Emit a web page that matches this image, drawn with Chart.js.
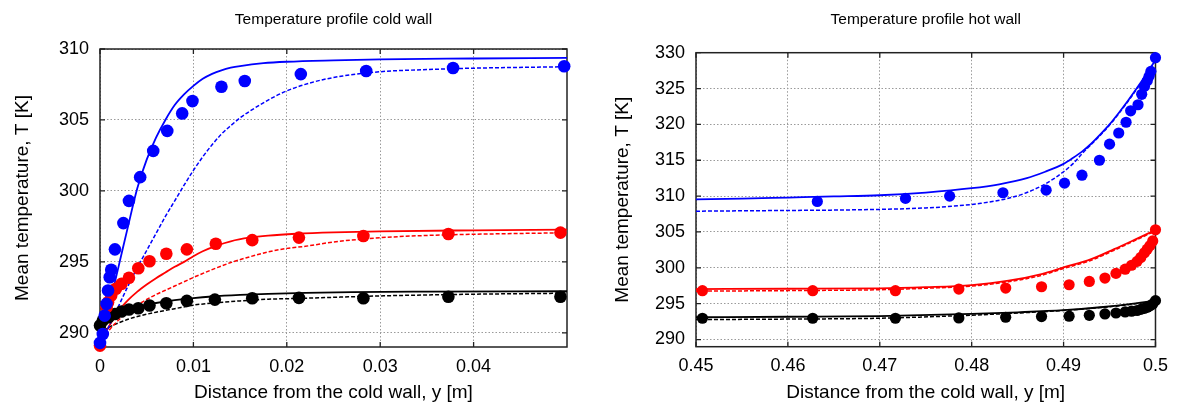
<!DOCTYPE html>
<html>
<head>
<meta charset="utf-8">
<script src="https://cdn.jsdelivr.net/npm/chart.js@4/dist/chart.umd.min.js"></script>
<style>
  html, body { margin: 0; padding: 0; background: #fff; }
  #cold { position: absolute; left: 0; top: 0; }
  #hot { position: absolute; left: 590px; top: 0; }
</style>
</head>
<body>
<canvas id="cold" width="590" height="405"></canvas>
<canvas id="hot" width="587" height="405"></canvas>
<script>
// ---- cold wall (left plot), y in m, T in K ----
const coldXTicks = [0, 0.01, 0.02, 0.03, 0.04];
const coldXLabels = ['0', '0.01', '0.02', '0.03', '0.04'];
const coldTTicks = [290, 295, 300, 305, 310];

const coldBlueDotY = [0, 0.0003, 0.0005, 0.0007, 0.00086, 0.00104, 0.0012, 0.0016, 0.0025, 0.0031, 0.0043, 0.0057, 0.0072, 0.0088, 0.0099, 0.0130, 0.0155, 0.0215, 0.0285, 0.0378, 0.0497];
const coldBlueDotT = [289.29, 289.92, 291.21, 292.04, 292.98, 293.92, 294.44, 295.88, 297.73, 299.3, 300.97, 302.82, 304.23, 305.46, 306.33, 307.34, 307.74, 308.23, 308.45, 308.66, 308.78];
const coldRedDotY = [0, 0.0007, 0.00086, 0.0012, 0.0017, 0.0023, 0.0031, 0.0041, 0.0053, 0.0071, 0.0093, 0.0124, 0.0163, 0.0213, 0.0282, 0.0373, 0.0493];
const coldRedDotT = [289.1, 291.8, 292.15, 292.63, 293.1, 293.45, 293.88, 294.55, 295.04, 295.57, 295.88, 296.28, 296.53, 296.71, 296.82, 296.96, 297.06];
const coldBlackDotY = [0, 0.0003, 0.0009, 0.0016, 0.0023, 0.0031, 0.0041, 0.0053, 0.0071, 0.0093, 0.0123, 0.0163, 0.0213, 0.0282, 0.0373, 0.0493];
const coldBlackDotT = [290.51, 290.86, 291.1, 291.33, 291.5, 291.64, 291.73, 291.92, 292.08, 292.25, 292.34, 292.44, 292.46, 292.44, 292.54, 292.54];

const coldBlueSolidY = [0, 0.001, 0.002, 0.003, 0.004, 0.005, 0.006, 0.007, 0.008, 0.009, 0.010, 0.011, 0.012, 0.013, 0.014, 0.015, 0.0175, 0.020, 0.025, 0.030, 0.040, 0.050];
const coldBlueSolidT = [289.05, 291.9, 294.7, 297.5, 300.2, 302.2, 303.75, 305.0, 306.05, 306.8, 307.4, 307.9, 308.25, 308.5, 308.68, 308.8, 309.0, 309.1, 309.2, 309.27, 309.33, 309.38];
const coldBlueDashY = [0, 0.001, 0.002, 0.003, 0.004, 0.005, 0.006, 0.007, 0.008, 0.009, 0.010, 0.011, 0.012, 0.013, 0.014, 0.015, 0.016, 0.018, 0.020, 0.023, 0.026, 0.030, 0.035, 0.040, 0.050];
const coldBlueDashT = [289.1, 290.5, 291.9, 293.3, 294.6, 295.8, 297.0, 298.2, 299.3, 300.4, 301.45, 302.4, 303.25, 304.0, 304.6, 305.15, 305.6, 306.4, 307.05, 307.7, 308.1, 308.4, 308.55, 308.65, 308.75];
const coldRedSolidY = [0, 0.0005, 0.001, 0.002, 0.003, 0.004, 0.005, 0.006, 0.007, 0.008, 0.009, 0.010, 0.011, 0.0125, 0.014, 0.016, 0.018, 0.021, 0.025, 0.030, 0.040, 0.050];
const coldRedSolidT = [289.1, 289.9, 290.5, 291.55, 292.3, 292.9, 293.4, 293.85, 294.25, 294.65, 295.0, 295.4, 295.75, 296.15, 296.45, 296.7, 296.85, 296.98, 297.08, 297.15, 297.22, 297.27];
const coldRedDashY = [0, 0.001, 0.002, 0.003, 0.004, 0.005, 0.006, 0.007, 0.008, 0.009, 0.010, 0.012, 0.014, 0.016, 0.018, 0.020, 0.022, 0.025, 0.028, 0.032, 0.037, 0.043, 0.050];
const coldRedDashT = [289.1, 290.2, 290.9, 291.5, 291.95, 292.35, 292.7, 293.0, 293.3, 293.6, 293.9, 294.45, 294.95, 295.35, 295.7, 295.95, 296.1, 296.4, 296.6, 296.78, 296.9, 296.98, 297.05];
const coldBlackSolidY = [0, 0.0005, 0.001, 0.002, 0.003, 0.004, 0.005, 0.006, 0.008, 0.010, 0.012, 0.015, 0.018, 0.022, 0.027, 0.035, 0.050];
const coldBlackSolidT = [290.4, 290.95, 291.2, 291.5, 291.7, 291.85, 291.98, 292.1, 292.3, 292.45, 292.56, 292.67, 292.75, 292.82, 292.87, 292.9, 292.93];
const coldBlackDashY = [0, 0.0005, 0.001, 0.002, 0.003, 0.004, 0.006, 0.008, 0.010, 0.0125, 0.015, 0.018, 0.021, 0.025, 0.030, 0.040, 0.050];
const coldBlackDashT = [289.8, 290.2, 290.4, 290.7, 290.95, 291.15, 291.45, 291.7, 291.95, 292.12, 292.25, 292.37, 292.42, 292.5, 292.6, 292.72, 292.79];

// ---- hot wall (right plot) ----
const hotXTicks = [0.45, 0.46, 0.47, 0.48, 0.49, 0.5];
const hotXLabels = ['0.45', '0.46', '0.47', '0.48', '0.49', '0.5'];
const hotTTicks = [290, 295, 300, 305, 310, 315, 320, 325, 330];

const hotBlueDotY = [0.4632, 0.4728, 0.4776, 0.4834, 0.4881, 0.4901, 0.4920, 0.4939, 0.4950, 0.4960, 0.4968, 0.4973, 0.4981, 0.4985, 0.4988, 0.4991, 0.4993, 0.4995, 0.5];
const hotBlueDotT = [309.26, 309.68, 310.0, 310.47, 310.83, 311.81, 312.92, 315.0, 317.25, 318.8, 320.3, 321.9, 322.74, 324.2, 325.3, 326.07, 326.7, 327.4, 329.3];
const hotRedDotY = [0.4507, 0.4627, 0.4717, 0.4786, 0.4837, 0.4876, 0.4906, 0.4928, 0.4945, 0.4957, 0.4967, 0.4974, 0.4980, 0.4984, 0.4988, 0.4991, 0.4994, 0.4997, 0.5];
const hotRedDotT = [296.81, 296.81, 296.81, 297.04, 297.18, 297.36, 297.64, 298.1, 298.57, 299.22, 299.81, 300.36, 300.9, 301.45, 302.1, 302.6, 303.1, 303.75, 305.3];
const hotBlackDotY = [0.4507, 0.4627, 0.4717, 0.4786, 0.4837, 0.4876, 0.4906, 0.4928, 0.4945, 0.4957, 0.4967, 0.4974, 0.4980, 0.4984, 0.4988, 0.4991, 0.4994, 0.4997, 0.5];
const hotBlackDotT = [292.97, 292.97, 292.97, 293.01, 293.11, 293.2, 293.25, 293.38, 293.57, 293.7, 293.85, 293.95, 294.05, 294.2, 294.35, 294.5, 294.7, 294.95, 295.42];

const hotBlueSolidY = [0.45, 0.455, 0.46, 0.465, 0.47, 0.475, 0.48, 0.483, 0.486, 0.488, 0.490, 0.491, 0.492, 0.493, 0.494, 0.495, 0.496, 0.497, 0.498, 0.499, 0.5];
const hotBlueSolidT = [309.54, 309.65, 309.8, 309.95, 310.12, 310.5, 311.1, 311.65, 312.5, 313.4, 314.5, 315.3, 316.2, 317.3, 318.6, 320.0, 321.6, 323.3, 325.1, 327.0, 329.0];
const hotBlueDashY = [0.45, 0.455, 0.46, 0.465, 0.47, 0.475, 0.478, 0.481, 0.484, 0.486, 0.488, 0.490, 0.491, 0.492, 0.493, 0.494, 0.495, 0.496, 0.497, 0.498, 0.499, 0.5];
const hotBlueDashT = [307.9, 307.95, 308.0, 308.05, 308.15, 308.35, 308.6, 309.0, 309.7, 310.5, 311.7, 313.4, 314.5, 315.9, 317.2, 318.5, 319.9, 321.5, 323.2, 325.0, 326.9, 328.9];
const hotRedSolidY = [0.45, 0.46, 0.47, 0.475, 0.48, 0.484, 0.4876, 0.490, 0.493, 0.4955, 0.498, 0.5];
const hotRedSolidT = [297.04, 297.08, 297.13, 297.3, 297.6, 298.2, 299.13, 300.06, 301.2, 302.6, 304.08, 305.28];
const hotRedDashY = [0.45, 0.46, 0.47, 0.475, 0.48, 0.484, 0.4876, 0.490, 0.493, 0.4955, 0.498, 0.5];
const hotRedDashT = [296.75, 296.82, 296.95, 297.15, 297.45, 298.05, 298.95, 299.9, 301.05, 302.45, 303.95, 305.15];
const hotBlackSolidY = [0.45, 0.46, 0.47, 0.48, 0.485, 0.49, 0.494, 0.497, 0.5];
const hotBlackSolidT = [293.11, 293.18, 293.27, 293.57, 293.8, 294.1, 294.5, 294.9, 295.42];
const hotBlackDashY = [0.45, 0.46, 0.47, 0.48, 0.485, 0.49, 0.494, 0.497, 0.5];
const hotBlackDashT = [292.78, 292.85, 292.97, 293.4, 293.7, 294.05, 294.45, 294.85, 295.38];

const FONT = "'Liberation Sans', Arial, Helvetica, sans-serif";
const BLUE = '#0000ff', RED = '#ff0000', BLACK = '#000000';

Chart.defaults.color = '#000';
Chart.defaults.font.family = FONT;

function pts(xs, ys) {
    return xs.map((v, i) => ({ x: v, y: ys[i] }));
}

function dots(xs, ys, color, r) {
    return { data: pts(xs, ys), showLine: false, pointRadius: r, pointHoverRadius: r,
        pointBackgroundColor: color, pointBorderWidth: 0, clip: false };
}

function curve(xs, ys, color, dashed) {
    return { data: pts(xs, ys), showLine: true, pointRadius: 0, borderColor: color,
        borderWidth: dashed ? 1.5 : 1.8, borderDash: dashed ? [4, 2] : [],
        cubicInterpolationMode: 'monotone', fill: false };
}

// gnuplot style border with inward tics on all four sides
const framePlugin = {
    id: 'frame',
    beforeDatasetsDraw(chart) {
        const { ctx, chartArea: a, scales: { x, y } } = chart;
        ctx.save();
        ctx.strokeStyle = '#222';
        ctx.lineWidth = 1.3;
        ctx.beginPath();
        x.ticks.forEach(t => {
            const px = x.getPixelForValue(t.value);
            ctx.moveTo(px, a.bottom); ctx.lineTo(px, a.bottom - 5);
            ctx.moveTo(px, a.top); ctx.lineTo(px, a.top + 5);
        });
        y.ticks.forEach(t => {
            const py = y.getPixelForValue(t.value);
            ctx.moveTo(a.left, py); ctx.lineTo(a.left + 5, py);
            ctx.moveTo(a.right, py); ctx.lineTo(a.right - 5, py);
        });
        ctx.stroke();
        ctx.lineWidth = 1.5;
        ctx.strokeRect(a.left, a.top, a.right - a.left, a.bottom - a.top);
        ctx.restore();
    }
};

function makeChart(id, p) {
    return new Chart(document.getElementById(id), {
        type: 'scatter',
        data: { datasets: p.datasets },
        options: {
            responsive: false,
            animation: false,
            events: [],
            layout: { padding: { left: p.padLeft, right: p.padRight, top: 0, bottom: 0 } },
            plugins: {
                legend: { display: false },
                tooltip: { enabled: false },
                title: {
                    display: true, text: p.title, fullSize: false,
                    font: { size: 15.5, weight: 'normal' },
                    padding: { top: 10, bottom: p.titleGap }
                }
            },
            scales: {
                x: {
                    type: 'linear', min: p.xMin, max: p.xMax,
                    afterBuildTicks: s => { s.ticks = p.xTicks.map(v => ({ value: v })); },
                    afterFit: s => { s.height = p.xAxisH; },
                    ticks: { font: { size: 18 }, padding: 9, maxRotation: 0, autoSkip: false,
                        callback: (v) => p.xLabels[p.xTicks.indexOf(v)] },
                    grid: { color: '#9a9a9a', lineWidth: 1, drawTicks: false },
                    border: { display: false, dash: [1.5, 2] },
                    title: { display: true, text: 'Distance from the cold wall, y [m]',
                        font: { size: 19 }, padding: { top: 0, bottom: 1 } }
                },
                y: {
                    type: 'linear', min: p.yMin, max: p.yMax,
                    afterBuildTicks: s => { s.ticks = p.yTicks.map(v => ({ value: v })); },
                    afterFit: s => { s.width = p.yAxisW; },
                    ticks: { font: { size: 18 }, padding: 11, callback: v => String(v) },
                    grid: { color: '#9a9a9a', lineWidth: 1, drawTicks: false },
                    border: { display: false, dash: [1.5, 2] },
                    title: { display: true, text: 'Mean temperature, T [K]',
                        font: { size: 19 }, padding: { top: 11, bottom: 0 } }
                }
            }
        },
        plugins: [framePlugin]
    });
}

makeChart('cold', {
    title: 'Temperature profile cold wall',
    xMin: 0, xMax: 0.05, yMin: 289, yMax: 310,
    xTicks: coldXTicks, xLabels: coldXLabels, yTicks: coldTTicks,
    padLeft: 0, padRight: 23, yAxisW: 100, xAxisH: 58, titleGap: 20.4,
    datasets: [
        dots(coldBlueDotY, coldBlueDotT, BLUE, 6.3),
        dots(coldRedDotY, coldRedDotT, RED, 6.3),
        dots(coldBlackDotY, coldBlackDotT, BLACK, 6.3),
        curve(coldBlueSolidY, coldBlueSolidT, BLUE, false),
        curve(coldBlueDashY, coldBlueDashT, BLUE, true),
        curve(coldRedSolidY, coldRedSolidT, RED, false),
        curve(coldRedDashY, coldRedDashT, RED, true),
        curve(coldBlackSolidY, coldBlackSolidT, BLACK, false),
        curve(coldBlackDashY, coldBlackDashT, BLACK, true)
    ]
});

makeChart('hot', {
    title: 'Temperature profile hot wall',
    xMin: 0.45, xMax: 0.5, yMin: 289, yMax: 330,
    xTicks: hotXTicks, xLabels: hotXLabels, yTicks: hotTTicks,
    padLeft: 10, padRight: 18.3, yAxisW: 96, xAxisH: 58.3, titleGap: 24.1,
    datasets: [
        dots(hotBlueDotY, hotBlueDotT, BLUE, 5.6),
        dots(hotRedDotY, hotRedDotT, RED, 5.6),
        dots(hotBlackDotY, hotBlackDotT, BLACK, 5.6),
        curve(hotBlueSolidY, hotBlueSolidT, BLUE, false),
        curve(hotBlueDashY, hotBlueDashT, BLUE, true),
        curve(hotRedSolidY, hotRedSolidT, RED, false),
        curve(hotRedDashY, hotRedDashT, RED, true),
        curve(hotBlackSolidY, hotBlackSolidT, BLACK, false),
        curve(hotBlackDashY, hotBlackDashT, BLACK, true)
    ]
});
</script>
</body>
</html>
